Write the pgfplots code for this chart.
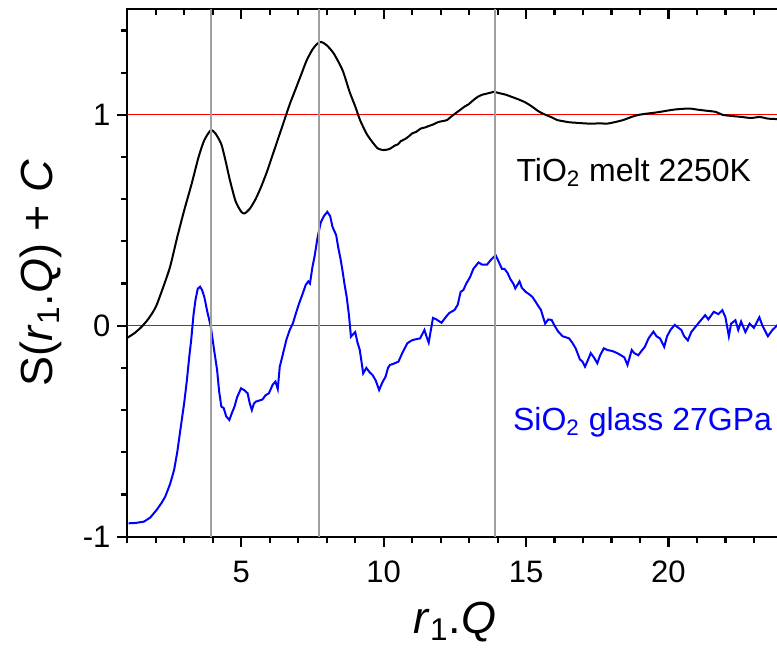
\documentclass[border=0pt]{standalone}
\usepackage{fontspec}
\setmainfont{Liberation Sans}
\usepackage{pgfplots}
\pgfplotsset{compat=1.18}
\definecolor{refgray}{HTML}{A0A0A0}
\definecolor{myblue}{HTML}{0000FF}
\definecolor{refred}{HTML}{FF0000}
\begin{document}
\begin{tikzpicture}
\begin{axis}[name=ax,
  scale only axis, width=327.5pt, height=263.6pt,
  xmin=1, xmax=24, ymin=-1, ymax=1.5,
  axis line style={line width=1pt},
  tick style={line width=1.1pt, black},
  major tick length=5pt, minor tick length=3pt,
  tick align=outside, tick pos=left,
  xtick={5,10,15,20}, minor xtick={1,2,3,4,6,7,8,9,11,12,13,14,16,17,18,19,21,22,23,24},
  ytick={-1,0,1}, minor ytick={-0.8,-0.6,-0.4,-0.2,0.2,0.4,0.6,0.8,1.2,1.4},
  /pgf/number format/assume math mode=true,
  ticklabel style={font=\fontsize{15.5}{18}\selectfont},
  xticklabel style={yshift=-3.8pt},
  xlabel={\textit{r}\textsubscript{1}.\textit{Q}},
  ylabel={S(\textit{r}\textsubscript{1}.\textit{Q}) + \textit{C}},
  every axis x label/.style={at={(axis description cs:0.5,-0.184)}, anchor=base, font=\fontsize{22.5}{26}\selectfont},
  every axis y label/.style={at={(axis description cs:-0.1151,0.5)}, anchor=base, rotate=90, font=\fontsize{22.5}{26}\selectfont},
]
\addplot[refred, line width=0.6pt] coordinates {(1,0) (24,0)};
\addplot[refred, line width=0.6pt] coordinates {(1,1) (24,1)};
% TiO2 melt 2250K
\addplot[black, line width=1pt, smooth, tension=0.4] coordinates {
(1.0,-0.057) (1.25,-0.035) (1.5,-0.005) (1.75,0.035) (2.0,0.09) (2.25,0.18) (2.5,0.28)
(2.75,0.42) (3.0,0.55) (3.25,0.67) (3.5,0.80) (3.7,0.88) (3.93,0.927) (4.1,0.91)
(4.3,0.86) (4.45,0.78) (4.6,0.69) (4.8,0.59) (5.0,0.54) (5.12,0.533) (5.3,0.555)
(5.5,0.60) (5.7,0.66) (5.9,0.73) (6.1,0.81) (6.3,0.89) (6.5,0.97) (6.7,1.05)
(6.9,1.12) (7.1,1.19) (7.3,1.26) (7.5,1.31) (7.65,1.335) (7.8,1.346) (8.0,1.33) (8.25,1.29)
(8.56,1.21) (8.8,1.11) (9.0,1.04) (9.17,0.975) (9.4,0.91) (9.63,0.866) (9.8,0.84)
(10.0,0.833) (10.2,0.838) (10.4,0.855) (10.5,0.86) (10.6,0.875) (10.75,0.885)
(10.9,0.90) (11.0,0.912) (11.15,0.92) (11.3,0.935) (11.45,0.94) (11.6,0.948)
(11.75,0.955) (11.9,0.965) (12.05,0.97) (12.22,0.975) (12.4,0.995) (12.55,1.01)
(12.7,1.025) (12.85,1.04) (12.98,1.05) (13.15,1.07) (13.3,1.085) (13.45,1.095)
(13.6,1.10) (13.75,1.105) (13.86,1.109) (14.0,1.105) (14.15,1.10) (14.3,1.095)
(14.5,1.085) (14.7,1.075) (14.96,1.06) (15.2,1.04) (15.4,1.02) (15.6,1.005)
(15.87,0.99) (16.1,0.975) (16.3,0.97) (16.5,0.965) (16.79,0.962) (17.0,0.960)
(17.3,0.958) (17.6,0.96) (17.83,0.958) (18.1,0.965) (18.4,0.975) (18.7,0.99)
(18.92,0.999) (19.2,1.005) (19.5,1.01) (19.75,1.015) (19.96,1.02) (20.2,1.025)
(20.45,1.028) (20.75,1.030) (21.0,1.025) (21.3,1.02) (21.66,1.014) (21.9,1.0)
(22.2,0.995) (22.57,0.99) (22.9,0.985) (23.2,0.99) (23.5,0.982) (23.87,0.98) (24.0,0.985)
};
% SiO2 glass 27GPa
\addplot[myblue, line width=1pt] coordinates {
(1.04,-0.937) (1.3,-0.935) (1.58,-0.929) (1.8,-0.91) (2.03,-0.873) (2.2,-0.84)
(2.33,-0.81) (2.5,-0.75) (2.64,-0.684) (2.75,-0.60) (2.86,-0.494) (3.0,-0.36)
(3.09,-0.257) (3.17,-0.15) (3.24,-0.068) (3.32,0.05) (3.39,0.122) (3.47,0.175)
(3.55,0.185) (3.62,0.17) (3.70,0.137) (3.8,0.07) (3.93,-0.005) (4.05,-0.12)
(4.15,-0.21) (4.22,-0.31) (4.30,-0.384) (4.38,-0.39) (4.47,-0.43) (4.58,-0.447)
(4.68,-0.41) (4.76,-0.384) (4.85,-0.34) (4.99,-0.297) (5.1,-0.305) (5.22,-0.32)
(5.3,-0.37) (5.37,-0.40) (5.44,-0.37) (5.51,-0.36) (5.74,-0.35) (5.85,-0.33)
(5.97,-0.32) (6.1,-0.28) (6.20,-0.265) (6.28,-0.30) (6.35,-0.194) (6.45,-0.14)
(6.58,-0.068) (6.7,-0.02) (6.81,0.011) (6.92,0.06) (7.03,0.106) (7.15,0.15)
(7.26,0.193) (7.35,0.21) (7.41,0.20) (7.5,0.28) (7.57,0.327) (7.68,0.42)
(7.79,0.49) (7.9,0.52) (8.02,0.54) (8.12,0.52) (8.2,0.47) (8.25,0.454) (8.33,0.43)
(8.40,0.374) (8.48,0.32) (8.55,0.264) (8.62,0.20) (8.70,0.137) (8.78,0.05)
(8.85,-0.052) (8.93,-0.04) (9.0,-0.03) (9.08,-0.08) (9.16,-0.115) (9.22,-0.17)
(9.28,-0.226) (9.39,-0.2) (9.5,-0.22) (9.61,-0.234) (9.72,-0.26) (9.84,-0.305)
(9.95,-0.27) (10.07,-0.24) (10.15,-0.2) (10.22,-0.186) (10.35,-0.18) (10.52,-0.17)
(10.65,-0.13) (10.83,-0.083) (10.98,-0.07) (11.1,-0.065) (11.28,-0.06) (11.43,-0.02)
(11.5,-0.05) (11.58,-0.08) (11.73,0.037) (11.85,0.03) (12.03,0.014) (12.19,0.043)
(12.3,0.06) (12.49,0.075) (12.6,0.1) (12.7,0.16) (12.80,0.17) (12.9,0.2) (13.03,0.23)
(13.15,0.27) (13.33,0.30) (13.45,0.29) (13.63,0.29) (13.75,0.31) (13.93,0.335)
(14.05,0.30) (14.15,0.27) (14.24,0.27) (14.35,0.25) (14.45,0.22) (14.55,0.2)
(14.62,0.177) (14.77,0.21) (14.85,0.18) (14.99,0.16) (15.1,0.15) (15.22,0.137)
(15.35,0.11) (15.52,0.075) (15.6,0.04) (15.67,0.01) (15.78,0.03) (15.90,0.027)
(16.0,0.0) (16.13,-0.028) (16.28,-0.05) (16.4,-0.055) (16.51,-0.06) (16.62,-0.08)
(16.74,-0.107) (16.89,-0.16) (16.98,-0.17) (17.07,-0.194) (17.18,-0.16) (17.27,-0.13)
(17.38,-0.15) (17.50,-0.178) (17.6,-0.14) (17.73,-0.107) (17.85,-0.115) (18.03,-0.12)
(18.2,-0.13) (18.33,-0.14) (18.45,-0.15) (18.56,-0.186) (18.71,-0.115) (18.8,-0.13)
(18.94,-0.14) (19.05,-0.12) (19.17,-0.1) (19.3,-0.06) (19.47,-0.028) (19.58,-0.05)
(19.70,-0.06) (19.85,-0.1) (19.95,-0.05) (20.07,-0.02) (20.22,0.004) (20.35,-0.01)
(20.45,-0.02) (20.55,-0.05) (20.68,-0.07) (20.8,-0.03) (20.98,0.0) (21.1,0.02)
(21.29,0.05) (21.4,0.03) (21.59,0.066) (21.75,0.055) (21.89,0.074) (22.0,0.04)
(22.12,-0.05) (22.2,0.01) (22.35,0.026) (22.45,-0.02) (22.55,0.02) (22.7,-0.03)
(22.85,0.01) (23.0,-0.01) (23.19,0.04) (23.3,0.0) (23.49,-0.05) (23.65,-0.02)
(23.85,0.006) (24.0,0.03)
};
\addplot[refgray, line width=1pt] coordinates {(3.93,-1) (3.93,1.5)};
\addplot[refgray, line width=1pt] coordinates {(7.74,-1) (7.74,1.5)};
\addplot[refgray, line width=1pt] coordinates {(13.9,-1) (13.9,1.5)};
\node[anchor=base west, font=\fontsize{16}{19}\selectfont, inner sep=0pt] at (axis cs:14.65,0.683) {TiO\textsubscript{2} melt 2250K};
\node[anchor=base west, font=\fontsize{16}{19}\selectfont, inner sep=0pt, text=myblue] at (axis cs:14.53,-0.495) {SiO\textsubscript{2} glass 27GPa};
\end{axis}
\begin{axis}[
  scale only axis, width=327.5pt, height=263.6pt,
  at={(ax.south west)}, anchor=south west,
  xmin=1, xmax=24, ymin=-1, ymax=1.5,
  axis line style={draw=none},
  tick style={line width=1.1pt, black},
  major tick length=5pt, minor tick length=3pt,
  tick align=inside, xtick pos=right, ytick pos=left,
  xtick={5,10,15,20}, minor xtick={1,2,3,4,6,7,8,9,11,12,13,14,16,17,18,19,21,22,23,24},
  ytick=\empty, xticklabels={},
]
\end{axis}
\pgfresetboundingbox
\path[use as bounding box] ([xshift=-63.7pt,yshift=-56.5pt]ax.south west) rectangle ([xshift=324.8pt,yshift=268.3pt]ax.south west);
\end{tikzpicture}
\end{document}
